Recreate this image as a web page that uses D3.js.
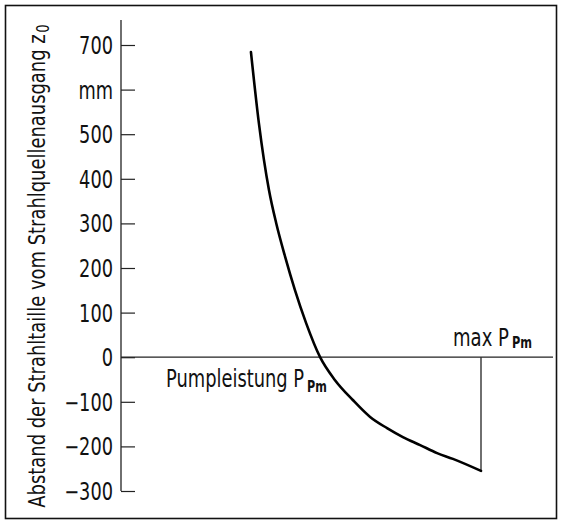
<!DOCTYPE html>
<html>
<head>
<meta charset="utf-8">
<script src="https://cdn.jsdelivr.net/npm/d3@7"></script>
<style>
  html, body { margin: 0; padding: 0; background: #fff; }
  svg text { font-family: "DejaVu Sans", "Liberation Sans", sans-serif; fill: #111; }
</style>
</head>
<body>
<svg id="chart" width="563" height="524"></svg>
<script>
// ---- data ----
const yTickValues = [-300, -200, -100, 0, 100, 200, 300, 400, 500, 600, 700];
const yTickLabels = ["\u2212300", "\u2212200", "\u2212100", "0", "100", "200", "300", "400", "500", "mm", "700"];
// relative pump power (max P_Pm = 1)
const pumpPower = [0.361, 0.383, 0.411, 0.431, 0.456, 0.483, 0.514, 0.553, 0.594, 0.644, 0.692, 0.739, 0.783, 0.831, 0.878, 0.922, 1.000];
// waist distance z0 in mm
const waistDist = [684, 525, 375, 301, 225, 151, 77, 0, -51, -96, -134, -159, -179, -197, -215, -228, -255];
const maxPump = 1.0;
const yTitle = "Abstand der Strahltaille vom Strahlquellenausgang z";
const yTitleSub = "0";

// ---- layout ----
const svg = d3.select("#chart");
const x = d3.scaleLinear().domain([0, 1.2]).range([121, 553]);
const y = d3.scaleLinear().domain([-300, 700]).range([491, 45]);
const condense = 0.74;

// horizontally condense a text around its anchor point
function squeeze(sel, ax, ay, k) {
  sel.attr("x", 0).attr("y", 0).attr("transform", `translate(${ax},${ay}) scale(${k},1)`);
}
function fitTo(sel, ax, ay, width, extra) {
  const w = sel.node().getComputedTextLength();
  sel.attr("x", 0).attr("y", 0).attr("transform", `translate(${ax},${ay}) ${extra || ""} scale(${width / w},1)`);
}

// frame
svg.append("rect").attr("x", 5.5).attr("y", 5.5).attr("width", 551).attr("height", 513)
  .attr("fill", "none").attr("stroke", "#111").attr("stroke-width", 1.6);

// y axis
const yAxis = d3.axisRight(y).tickValues(yTickValues).tickSize(14).tickFormat("");
const gy = svg.append("g").attr("transform", `translate(${x(0)},0)`).call(yAxis);
gy.select(".domain").attr("d", `M0,${y(-300)}H0V20`).attr("stroke", "#222").attr("stroke-width", 1.3);
gy.selectAll(".tick line").attr("stroke", "#222").attr("stroke-width", 1.2);

// tick labels
svg.append("g").selectAll("text").data(yTickValues).join("text")
  .attr("text-anchor", "end").attr("font-size", 24)
  .text((d, i) => yTickLabels[i])
  .each(function (d) { squeeze(d3.select(this), x(0) - 8, y(d) + 9, condense); });

// zero line
svg.append("line").attr("x1", x(0)).attr("x2", x(1.2)).attr("y1", y(0)).attr("y2", y(0))
  .attr("stroke", "#222").attr("stroke-width", 1.2);

// max line
svg.append("line").attr("x1", x(maxPump)).attr("x2", x(maxPump))
  .attr("y1", y(0)).attr("y2", y(waistDist[waistDist.length - 1]))
  .attr("stroke", "#222").attr("stroke-width", 1.3);

// curve
const line = d3.line().x((d, i) => x(pumpPower[i])).y(d => y(d)).curve(d3.curveMonotoneX);
svg.append("path").datum(waistDist).attr("d", line)
  .attr("fill", "none").attr("stroke", "#000").attr("stroke-width", 2.6).attr("stroke-linecap", "round");

// labels
const t1 = svg.append("text").attr("font-size", 24);
t1.append("tspan").text("Pumpleistung P");
t1.append("tspan").attr("dx", 4).attr("dy", 5).attr("font-size", 15).attr("font-weight", "bold").text("Pm");
fitTo(t1, 166, 387, 158);

const t2 = svg.append("text").attr("font-size", 24);
t2.append("tspan").text("max P");
t2.append("tspan").attr("dx", 4).attr("dy", 2).attr("font-size", 15).attr("font-weight", "bold").text("Pm");
fitTo(t2, 453, 346, 76);

// y title
const t3 = svg.append("text").attr("font-size", 23).attr("text-anchor", "middle");
t3.append("tspan").text(yTitle);
t3.append("tspan").attr("dx", 2).attr("dy", 4).attr("font-size", 17).text(yTitleSub);
fitTo(t3, 45, 266, 482, "rotate(-90)");
</script>
</body>
</html>
